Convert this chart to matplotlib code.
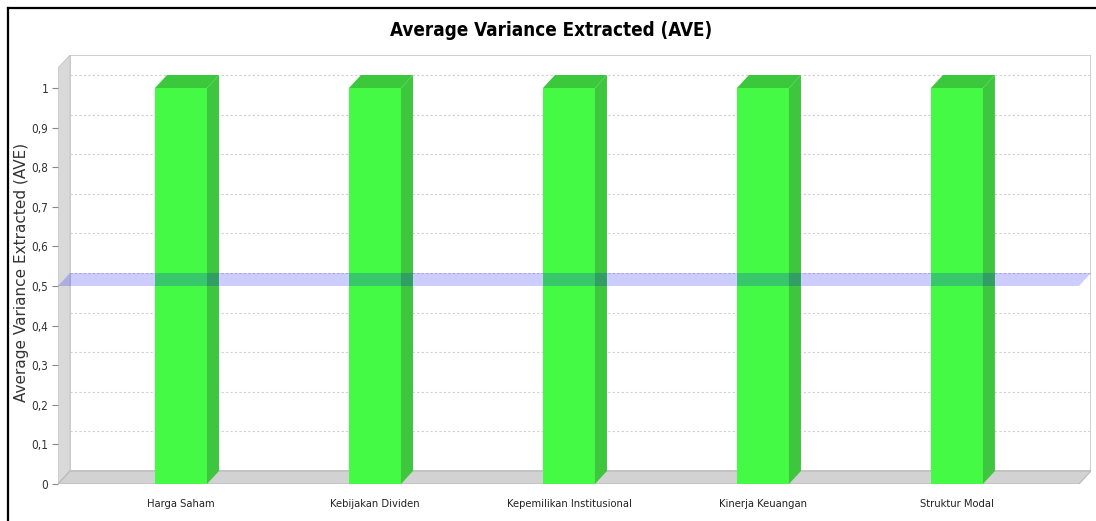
import matplotlib
matplotlib.use("Agg")
import matplotlib.pyplot as plt
from matplotlib.patches import Polygon, Rectangle
from matplotlib.lines import Line2D

# data
categories = ["Harga Saham", "Kebijakan Dividen", "Kepemilikan Institusional",
              "Kinerja Keuangan", "Struktur Modal"]
ave_values = [1.0, 1.0, 1.0, 1.0, 1.0]
threshold = 0.5
y_ticks = [0, 0.1, 0.2, 0.3, 0.4, 0.5, 0.6, 0.7, 0.8, 0.9, 1.0]
y_tick_labels = ["0", "0,1", "0,2", "0,3", "0,4", "0,5", "0,6", "0,7", "0,8", "0,9", "1"]

W, H = 1096, 521
fig = plt.figure(figsize=(W / 100, H / 100), dpi=100)
fig.patch.set_facecolor("white")

# axes covers the whole 3d box (front plane + depth offset)
ax = fig.add_axes([58 / W, 37 / H, (1091 - 58) / W, (484 - 55) / H])
xmin, xmax = -0.634, 4.691
ymin, ymax = 0, 429 / 396
ax.set_xlim(xmin, xmax)
ax.set_ylim(ymin, ymax)
ax.set_facecolor("none")
for s in ax.spines.values():
    s.set_visible(False)

# 3d depth in data units
ddx = 12 / 194
ddy = 13 / 396
front_top = 1.05
bar_w = 0.268

# back wall
ax.add_patch(Rectangle((xmin + ddx, ddy), xmax - xmin - ddx, ymax - ddy,
                       facecolor="white", edgecolor="#c8c8c8", lw=1.2, zorder=0))
# left wall
ax.add_patch(Polygon([(xmin, 0), (xmin + ddx, ddy), (xmin + ddx, front_top + ddy),
                      (xmin, front_top)], closed=True, facecolor="#d9d9d9",
                     edgecolor="#c8c8c8", lw=0.8, zorder=1))
# floor
ax.add_patch(Polygon([(xmin, 0), (xmin + ddx, ddy), (xmax, ddy), (xmax - ddx, 0)],
                     closed=True, facecolor="#d2d2d2", edgecolor="#b8b8b8",
                     lw=0.8, zorder=1))

# gridlines on back wall
ax.hlines([t + ddy for t in y_ticks[1:]], xmin + ddx, xmax, colors="#d0d0d0",
          linestyles=(0, (2, 2)), lw=0.8, zorder=0.5)

# bars
x = list(range(len(categories)))
ax.bar(x, ave_values, width=bar_w, color="#44fa44", zorder=3)
for xi, v in zip(x, ave_values):
    r = xi + bar_w / 2
    l = xi - bar_w / 2
    ax.add_patch(Polygon([(r, 0), (r + ddx, ddy), (r + ddx, v + ddy), (r, v)],
                         closed=True, facecolor="#3ec63e", edgecolor="none", zorder=3))
    ax.add_patch(Polygon([(l, v), (l + ddx, v + ddy), (r + ddx, v + ddy), (r, v)],
                         closed=True, facecolor="#3cc83c", edgecolor="none", zorder=3))

# threshold band (0.5)
ax.add_patch(Polygon([(xmin, threshold), (xmax - ddx, threshold),
                      (xmax, threshold + ddy), (xmin + ddx, threshold + ddy)],
                     closed=True, facecolor="#0000ff", alpha=0.2,
                     edgecolor="none", zorder=4))

# ticks
ax.set_yticks(y_ticks)
ax.set_yticklabels(y_tick_labels, family="DejaVu Sans", stretch="condensed",
                   fontsize=8.5, color="#333333")
ax.tick_params(axis="y", length=4, width=0.8, color="#888888", pad=3)
ax.set_xticks(x)
ax.set_xticklabels(categories, family="DejaVu Sans", stretch="condensed",
                   fontsize=8, color="#222222")
ax.tick_params(axis="x", length=0, pad=11)

ax.set_ylabel("Average Variance Extracted (AVE)", family="DejaVu Sans",
              fontsize=11, color="#333333")
ax.yaxis.set_label_coords(-29 / 1033, (484 - 272) / 429)

fig.text(551 / W, 1 - 31 / H, "Average Variance Extracted (AVE)",
         family="DejaVu Sans", stretch="condensed", fontweight="bold",
         fontsize=13.5, ha="center", va="center", color="black")

# outer border (top and left only are visible)
fig.add_artist(Line2D([8 / W, 1], [1 - 8 / H, 1 - 8 / H], color="black", lw=1.6,
                      transform=fig.transFigure))
fig.add_artist(Line2D([8 / W, 8 / W], [0, 1 - 8 / H], color="black", lw=1.6,
                      transform=fig.transFigure))

fig.savefig("out.png", dpi=100)
